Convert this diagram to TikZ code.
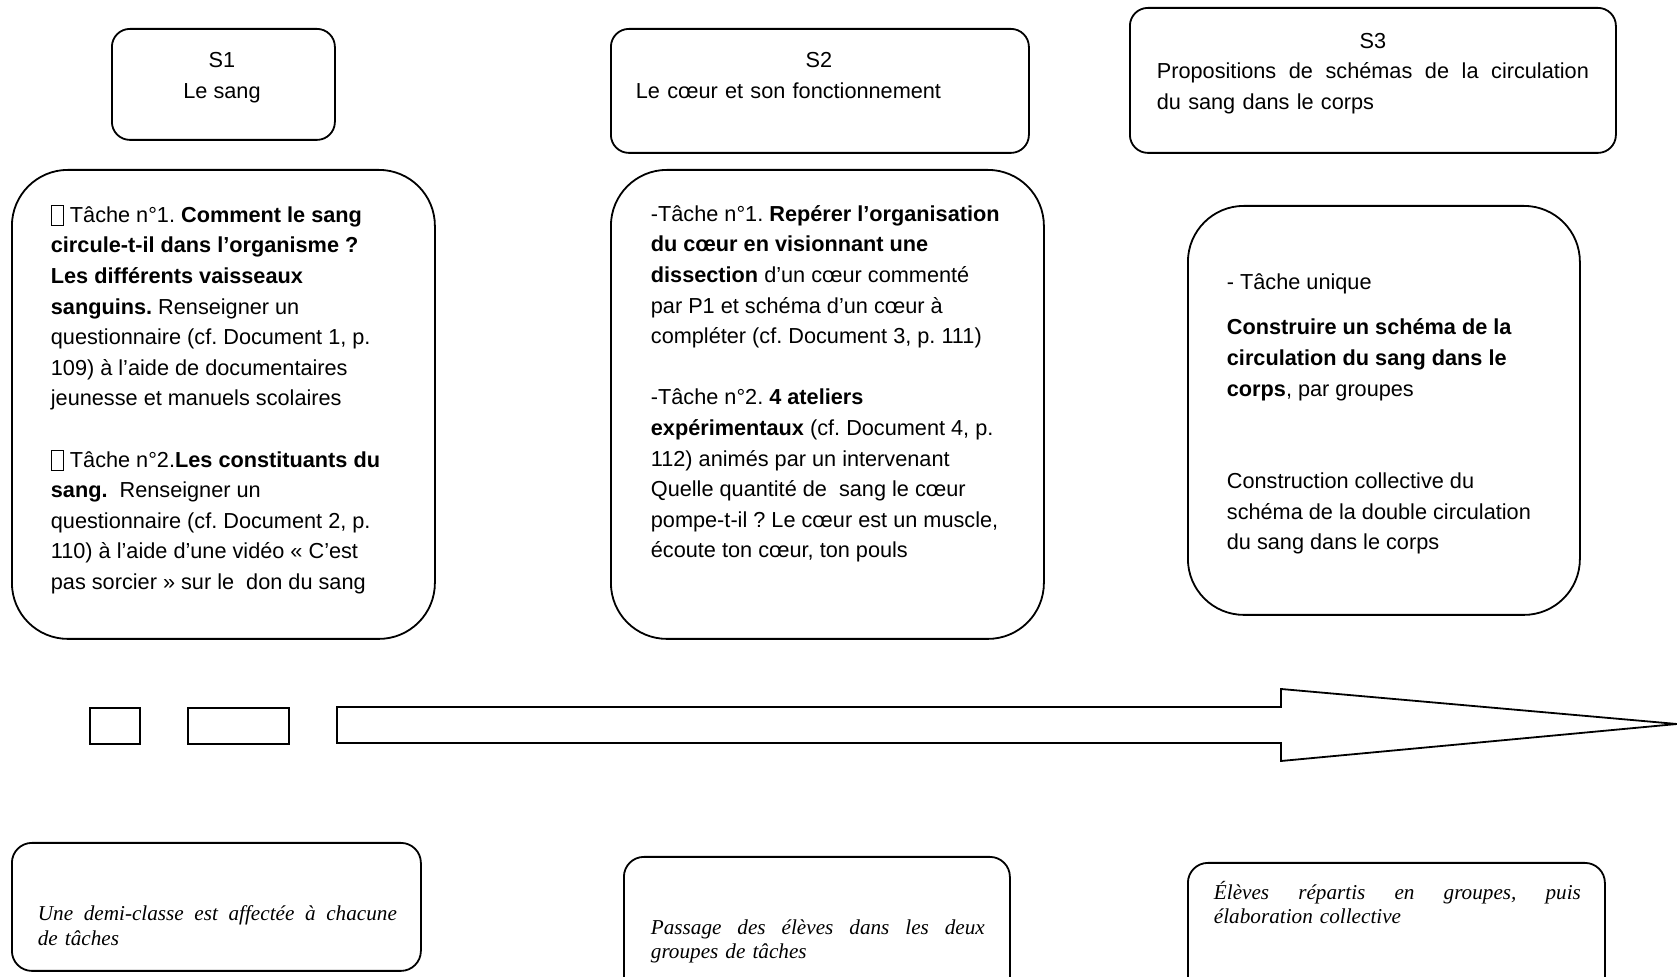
\documentclass[tikz,border=0pt]{standalone}
\usepackage{fontspec}
\setmainfont{Liberation Serif}
\setsansfont{Liberation Sans}
\setlength{\parindent}{0pt}
\frenchspacing
\newcommand{\tofu}{\raisebox{-1.5pt}{\setlength{\fboxsep}{0pt}\setlength{\fboxrule}{0.5pt}\fbox{\rule{0pt}{9.5pt}\hspace{5.5pt}}}}
\newcommand{\jline}[2]{\hbox to #1{\spaceskip=0.25em plus 1fil\relax #2}}
\begin{document}
\begin{tikzpicture}[x=0.5pt,y=-0.5pt,line width=0.9pt,
  hbox/.style={draw, rounded corners=9pt, anchor=north west, inner sep=0pt},
  tbox/.style={draw, rounded corners=28pt, anchor=north west, inner sep=0pt},
  nbox/.style={draw, rounded corners=10pt, anchor=north west, inner sep=0pt},
  sq/.style={draw, anchor=north west, inner sep=0pt, minimum height=18pt},
  txt/.style={anchor=north west, inner sep=0pt, align=left, font=\fontsize{10.85}{15.3}\selectfont\sffamily},
  note/.style={anchor=north west, inner sep=0pt, font=\fontsize{10.6}{12.4}\selectfont\rmfamily\itshape}]
\useasboundingbox (0,0) rectangle (1677,977);
\clip (0,0) rectangle (1677,977);
\draw (111,28) node[hbox, minimum width=111.5pt, minimum height=55.5pt] (s1) {};
\draw (610,28) node[hbox, minimum width=209pt, minimum height=62pt] (s2) {};
\draw (1129,7) node[hbox, minimum width=243pt, minimum height=72.5pt] (s3) {};
\draw (11,169) node[tbox, minimum width=211.5pt, minimum height=234.5pt] (t1) {};
\draw (610,169) node[tbox, minimum width=216.5pt, minimum height=234.5pt] (t2) {};
\draw (1187,205) node[tbox, minimum width=196pt, minimum height=204.5pt] (t3) {};
\draw (11,842) node[nbox, minimum width=204.5pt, minimum height=64pt] (n1) {};
\draw (623,856) node[nbox, minimum width=193pt, minimum height=75pt] (n2) {};
\draw (1187,862) node[nbox, minimum width=208.5pt, minimum height=75pt] (n3) {};
\draw (89,707) node[sq, minimum width=25pt] (r1) {};
\draw (187,707) node[sq, minimum width=50.5pt] (r2) {};
\draw (337,707) -- (1281,707) -- (1281,689) -- (1677,724) -- (1281,761) -- (1281,743) -- (337,743) -- cycle;
\draw (222,51.5) node[txt, anchor=north, align=center] (s1txt) {S1\\Le sang};
\draw (635,51.5) node[txt, text width=183pt] (s2txt) {\centering S2\par\raggedright Le cœur et son fonctionnement};
\draw (1156,32) node[txt, text width=216pt] (s3txt) {\centering S3\par\raggedright
  \jline{216pt}{Propositions de schémas de la circulation}\par du sang dans le corps};
\draw (50,204.5) node[txt] (t1txt) {\tofu{} Tâche n°1. \textbf{Comment le sang}\\
  \textbf{circule-t-il dans l’organisme ?}\\
  \textbf{Les différents vaisseaux}\\
  \textbf{sanguins.} Renseigner un\\
  questionnaire (cf. Document 1, p.\\
  109) à l’aide de documentaires\\
  jeunesse et manuels scolaires\\[15.3pt]
  \tofu{} Tâche n°2.\textbf{Les constituants du}\\
  \textbf{sang.}\ \ Renseigner un\\
  questionnaire (cf. Document 2, p.\\
  110) à l’aide d’une vidéo « C’est\\
  pas sorcier » sur le\ \ don du sang};
\draw (650,204.5) node[txt] (t2txt) {-Tâche n°1. \textbf{Repérer l’organisation}\\
  \textbf{du cœur en visionnant une}\\
  \textbf{dissection} d’un cœur commenté\\
  par P1 et schéma d’un cœur à\\
  compléter (cf. Document 3, p. 111)\\[15.3pt]
  -Tâche n°2. \textbf{4 ateliers}\\
  \textbf{expérimentaux} (cf. Document 4, p.\\
  112) animés par un intervenant\\
  Quelle quantité de\ \ sang le cœur\\
  pompe-t-il ? Le cœur est un muscle,\\
  écoute ton cœur, ton pouls};
\draw (1226,272.5) node[txt] (t3txt) {- Tâche unique\\[7.6pt]
  \textbf{Construire un schéma de la}\\
  \textbf{circulation du sang dans le}\\
  \textbf{corps}, par groupes\\[31pt]
  Construction collective du\\
  schéma de la double circulation\\
  du sang dans le corps};
\draw (37,904.5) node[note, text width=179.5pt] (n1txt) {\jline{179.5pt}{Une demi-classe est affectée à chacune}\par de tâches};
\draw (650,918.5) node[note, text width=167pt] (n2txt) {\jline{167pt}{Passage des élèves dans les deux}\par groupes de tâches};
\draw (1213,880) node[note, text width=183.5pt] (n3txt) {\jline{183.5pt}{Élèves répartis en groupes, puis}\par élaboration collective};
\end{tikzpicture}
\end{document}
